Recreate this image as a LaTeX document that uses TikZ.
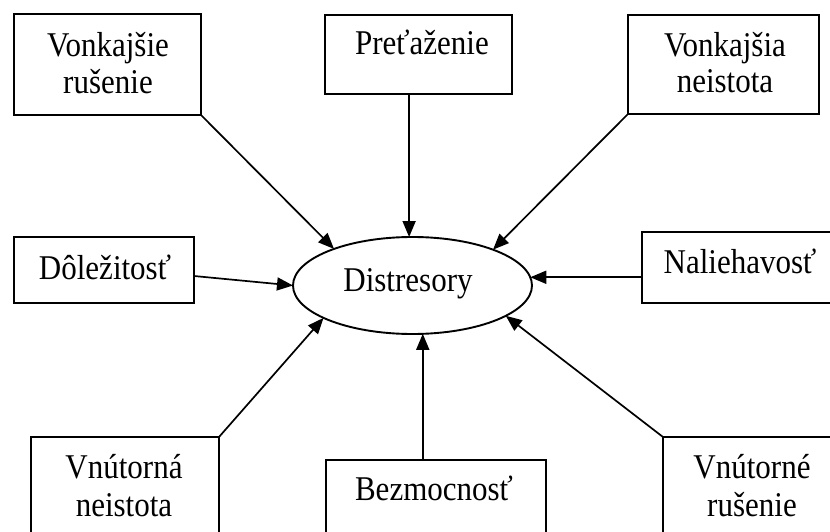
\documentclass[tikz,border=0pt]{standalone}
\usepackage{fontspec}
\setmainfont{Liberation Serif}
\usetikzlibrary{arrows.meta,shapes.geometric}
% labels are set slightly taller than the font's natural shape
\newcommand\tallt[1]{\scalebox{1}[1.12]{#1}}
\begin{document}
\begin{tikzpicture}[x=1pt,y=-1pt,
  box/.style={draw, line width=1.9pt, rectangle, anchor=north west,
    inner sep=0pt, outer sep=0pt},
  lbl/.style={anchor=base, inner sep=0pt, font=\fontsize{31}{37}\selectfont},
  conn/.style={line width=1.7pt, -{Triangle[length=16pt,width=13pt]}},
]
\useasboundingbox (0,0) rectangle (830,532);
\clip (0,0) rectangle (830,532);

% central ellipse
\node[draw, ellipse, line width=1.9pt, inner sep=0pt, outer sep=0pt,
  minimum width=239pt, minimum height=97pt] (dis) at (412.5,285.5) {};
\node[lbl] (tdis) at (408,291) {\tallt{Distresory}};

% surrounding boxes
\node[box, minimum width=187pt, minimum height=101pt] (b1) at (14,14) {};
\node[box, minimum width=187pt, minimum height=79pt]  (b2) at (325,15) {};
\node[box, minimum width=191pt, minimum height=99pt]  (b3) at (628,15) {};
\node[box, minimum width=180pt, minimum height=66pt]  (b4) at (14,237) {};
\node[box, minimum width=220pt, minimum height=71pt]  (b6) at (642,232) {};
\node[box, minimum width=188pt, minimum height=120pt] (b7) at (31,437) {};
\node[box, minimum width=220pt, minimum height=100pt] (b8) at (326,460) {};
\node[box, minimum width=200pt, minimum height=120pt] (b9) at (663,437) {};

% box labels
\node[lbl] (t1a) at (108,57) {\tallt{Vonkajšie}};
\node[lbl] (t1b) at (108,94) {\tallt{rušenie}};
\node[lbl] (t2)  at (422,55) {\tallt{Preťaženie}};
\node[lbl] (t3a) at (725,57) {\tallt{Vonkajšia}};
\node[lbl] (t3b) at (725,93) {\tallt{neistota}};
\node[lbl] (t4)  at (105,279) {\tallt{Dôležitosť}};
\node[lbl] (t6)  at (740,273) {\tallt{Naliehavosť}};
\node[lbl] (t7a) at (124,478) {\tallt{Vnútorná}};
\node[lbl] (t7b) at (124,516) {\tallt{neistota}};
\node[lbl] (t8)  at (434,500) {\tallt{Bezmocnosť}};
\node[lbl] (t9a) at (752,478) {\tallt{Vnútorné}};
\node[lbl] (t9b) at (752,516) {\tallt{rušenie}};

% connectors into the ellipse
\draw[conn] (b1.south east) -- (dis.155);
\draw[conn] (dis.94 |- b2.south) -- (dis.94);
\draw[conn] (b3.south west) -- (dis.24);
\draw[conn] ([yshift=-6pt]b4.east) -- (dis.west);
\draw[conn] (b6.west |- dis.4) -- (dis.4);
\draw[conn] (b7.north east) -- (dis.200);
\draw[conn] (dis.282 |- b8.north) -- (dis.282);
\draw[conn] (b9.north west) -- (dis.342);
\end{tikzpicture}
\end{document}
